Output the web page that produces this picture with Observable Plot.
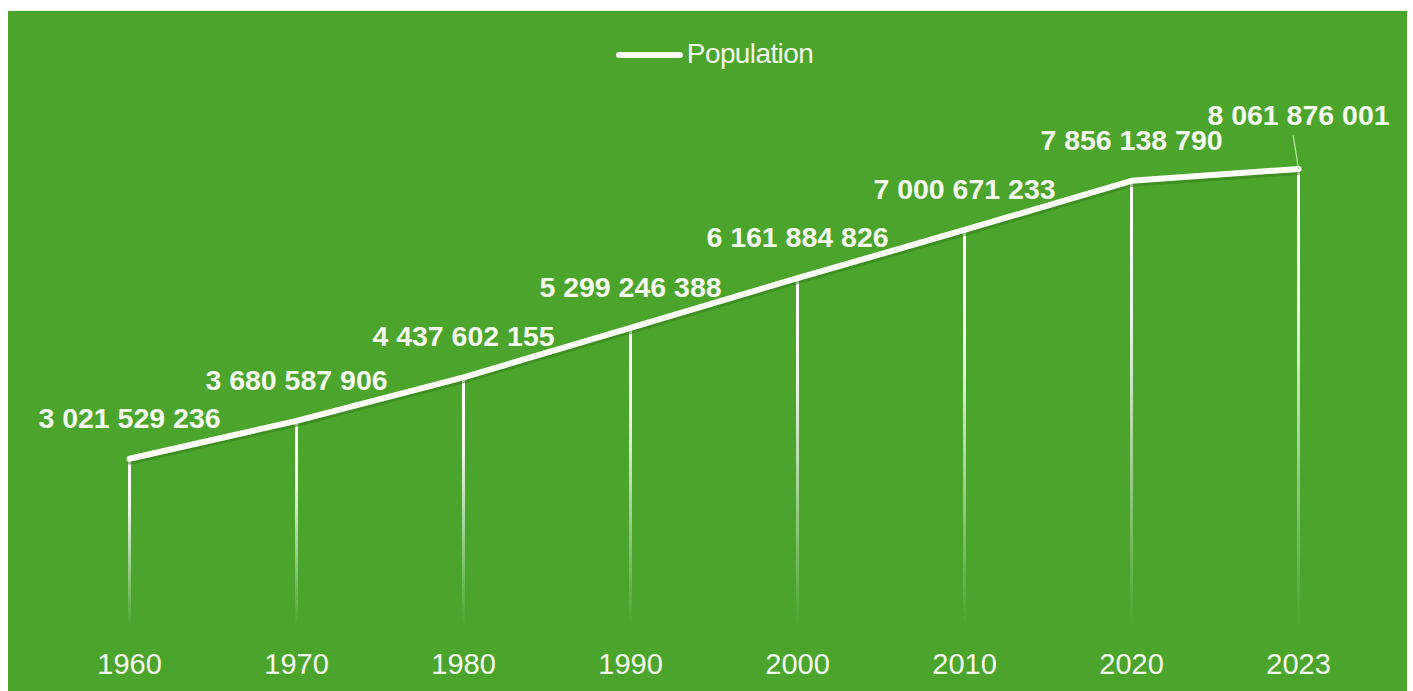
<!DOCTYPE html>
<html>
<head>
<meta charset="utf-8">
<script src="https://cdn.jsdelivr.net/npm/d3@7"></script>
<script src="https://cdn.jsdelivr.net/npm/@observablehq/plot@0.6"></script>
<style>
  html, body { margin: 0; padding: 0; background: #ffffff; width: 1413px; height: 691px; overflow: hidden; }
  #card { position: absolute; left: 8px; top: 11px; width: 1399px; height: 680px; background: #4ba42c;
          font-family: "Liberation Sans", Arial, sans-serif; }
  #legend { height: 70px; display: flex; align-items: center; justify-content: center; padding-left: 14px; box-sizing: border-box; }
  #legend .swatch { width: 67px; height: 6px; border-radius: 3px; background: #fbfdf5; margin-right: 4px; margin-top: 18px; }
  #legend .label { font-size: 28px; color: #f3faea; margin-top: 16px; letter-spacing: -0.6px; }
</style>
</head>
<body>
<div id="card">
  <div id="legend"></div>
  <div id="chart"></div>
</div>
<script>
const years = ["1960", "1970", "1980", "1990", "2000", "2010", "2020", "2023"];
const population = [3021529236, 3680587906, 4437602155, 5299246388, 6161884826, 7000671233, 7856138790, 8061876001];
const seriesName = "Population";

const data = years.map((year, i) => ({year, value: population[i], idx: i}));
const fmt = d3.formatLocale({thousands: " ", grouping: [3], decimal: ".", currency: ["", ""]}).format(",");

const legend = document.getElementById("legend");
legend.innerHTML = `<div class="swatch"></div><div class="label">${seriesName}</div>`;

const last = data.length - 1;
const textColor = "#f5fbee";

const plot = Plot.plot({
  width: 1399,
  height: 610,
  marginLeft: 120,
  marginRight: 109,
  marginTop: 33.5,
  marginBottom: 59,
  style: {background: "transparent", color: textColor, fontFamily: "'Liberation Sans', Arial, sans-serif", overflow: "visible"},
  x: {type: "point", domain: years, padding: 0, label: null},
  y: {domain: [0, 9e9], axis: null},
  marks: [
    Plot.axisX({tickSize: 0, tickPadding: 21, fontSize: 29, label: null, fill: textColor}),
    Plot.ruleX(data, {x: "year", y1: 0, y2: "value", stroke: d => `url(#fade-${d.idx})`, strokeWidth: 3}),
    Plot.line(data, {x: "year", y: "value", stroke: "#2f7a18", strokeWidth: 4, strokeOpacity: 0.5, dy: 4}),
    Plot.line(data, {x: "year", y: "value", stroke: "#fdfff8", strokeWidth: 6, strokeLinejoin: "round"}),
    Plot.vector(data.filter((d, i) => i === last), {
      x: "year", y: "value", length: 34, rotate: -9, anchor: "start",
      stroke: "#b9e2a6", strokeWidth: 1.2,
      shape: {draw(context, l) { context.moveTo(0, 0); context.lineTo(0, -l); }}
    }),
    Plot.text(data.filter((d, i) => i !== last), {
      x: "year", y: "value", text: d => fmt(d.value), dy: -40,
      fontSize: 28.5, fontWeight: "bold", fill: textColor
    }),
    Plot.text(data.filter((d, i) => i === last), {
      x: "year", y: "value", text: d => fmt(d.value), dy: -53,
      fontSize: 28.5, fontWeight: "bold", fill: textColor
    })
  ]
});

// per-rule vertical fade gradients, positioned through the plot's own y scale
const yScale = plot.scale("y");
const ns = "http://www.w3.org/2000/svg";
const defs = document.createElementNS(ns, "defs");
data.forEach((d, i) => {
  const g = document.createElementNS(ns, "linearGradient");
  g.setAttribute("id", "fade-" + i);
  g.setAttribute("gradientUnits", "userSpaceOnUse");
  g.setAttribute("x1", 0); g.setAttribute("x2", 0);
  g.setAttribute("y1", yScale.apply(d.value));
  g.setAttribute("y2", yScale.apply(0) - 6);
  [[0, 1], [0.3, 0.9], [1, 0]].forEach(([o, a]) => {
    const s = document.createElementNS(ns, "stop");
    s.setAttribute("offset", o);
    s.setAttribute("stop-color", "#ffffff");
    s.setAttribute("stop-opacity", a);
    g.appendChild(s);
  });
  defs.appendChild(g);
});
plot.insertBefore(defs, plot.firstChild);

document.getElementById("chart").appendChild(plot);
</script>
</body>
</html>
